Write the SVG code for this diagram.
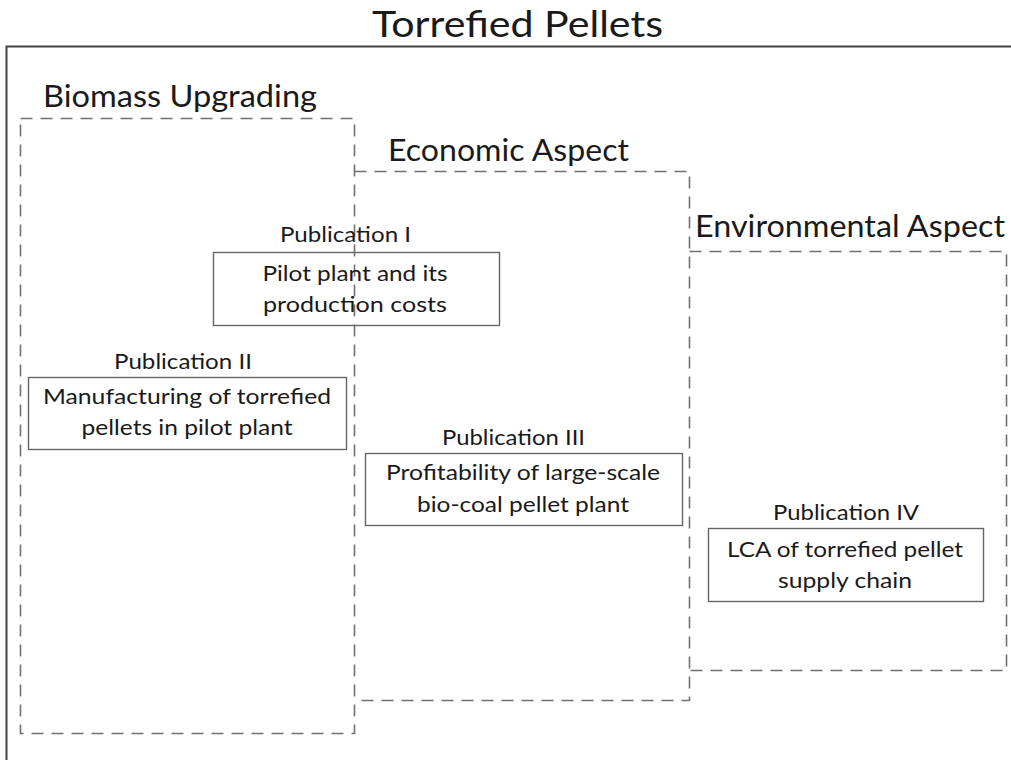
<svg xmlns="http://www.w3.org/2000/svg" width="1011" height="760" viewBox="0 0 1011 760">
<style>
text{font-family:Lato,"Open Sans","Liberation Sans",sans-serif;fill:#1a1a1a;text-anchor:middle}
.h{font-size:30px;text-anchor:start}
.t{font-size:36px}
.p{font-size:21px}
.dash{fill:none;stroke:#707070;stroke-width:1.6;stroke-dasharray:12,8}
.box{fill:none;stroke:#666;stroke-width:1.4}
</style>
<rect width="1011" height="760" fill="#fff"/>
<g id="outer">
<path d="M1011,46.5 H6.5 V760" fill="none" stroke="#444" stroke-width="2"/>
<text class="t" x="517.5" y="37" textLength="291" lengthAdjust="spacingAndGlyphs">Torrefied Pellets</text>
</g>
<g id="biomass">
<rect class="dash" x="20.5" y="118.5" width="334" height="615"/>
<text class="h" x="43" y="107" textLength="274" lengthAdjust="spacingAndGlyphs">Biomass Upgrading</text>
</g>
<g id="economic">
<path class="dash" d="M354.5,171.5 H689.5 V700.5 H354.5"/>
<text class="h" x="388" y="161" textLength="241" lengthAdjust="spacingAndGlyphs">Economic Aspect</text>
</g>
<g id="environmental">
<path class="dash" d="M689.5,251.5 H1006.5 V670.5 H689.5"/>
<text class="h" x="695" y="237" textLength="310" lengthAdjust="spacingAndGlyphs">Environmental Aspect</text>
</g>
<g id="pub1">
<text class="p" x="345.5" y="242" textLength="131" lengthAdjust="spacingAndGlyphs">Publication I</text>
<rect class="box" x="213.5" y="252.5" width="286" height="73"/>
<text class="p" x="355" y="281" textLength="185" lengthAdjust="spacingAndGlyphs">Pilot plant and its</text>
<text class="p" x="355" y="312" textLength="184" lengthAdjust="spacingAndGlyphs">production costs</text>
</g>
<g id="pub2">
<text class="p" x="183" y="369" textLength="138" lengthAdjust="spacingAndGlyphs">Publication II</text>
<rect class="box" x="28.5" y="377.5" width="318" height="72"/>
<text class="p" x="187" y="404" textLength="288" lengthAdjust="spacingAndGlyphs">Manufacturing of torrefied</text>
<text class="p" x="187" y="435" textLength="211" lengthAdjust="spacingAndGlyphs">pellets in pilot plant</text>
</g>
<g id="pub3">
<text class="p" x="513.5" y="445" textLength="143" lengthAdjust="spacingAndGlyphs">Publication III</text>
<rect class="box" x="365.5" y="453.5" width="317" height="72"/>
<text class="p" x="523" y="480" textLength="274" lengthAdjust="spacingAndGlyphs">Profitability of large-scale</text>
<text class="p" x="523" y="512" textLength="212" lengthAdjust="spacingAndGlyphs">bio-coal pellet plant</text>
</g>
<g id="pub4">
<text class="p" x="846" y="520" textLength="146" lengthAdjust="spacingAndGlyphs">Publication IV</text>
<rect class="box" x="708.5" y="528.5" width="275" height="73"/>
<text class="p" x="845" y="557" textLength="236" lengthAdjust="spacingAndGlyphs">LCA of torrefied pellet</text>
<text class="p" x="845" y="588" textLength="134" lengthAdjust="spacingAndGlyphs">supply chain</text>
</g>
<g id="connectors"></g>
</svg>
